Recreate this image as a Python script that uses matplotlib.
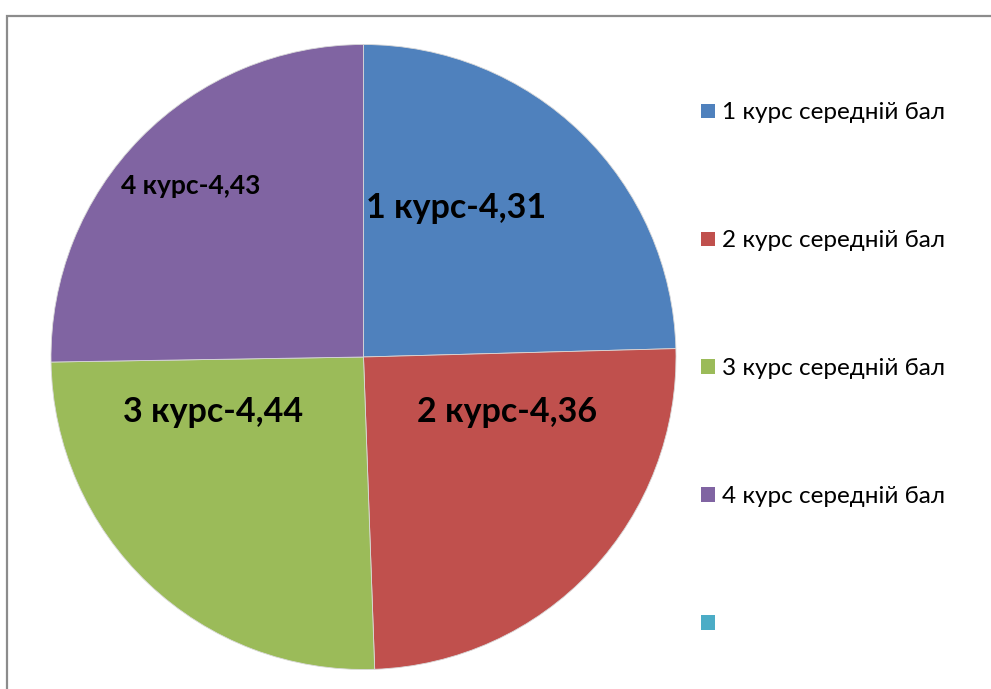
import matplotlib
matplotlib.use("Agg")
import matplotlib.pyplot as plt
from matplotlib.patches import Patch, Rectangle

plt.rcParams["font.family"] = ["Lato", "DejaVu Sans"]

courses = ["1 курс", "2 курс", "3 курс", "4 курс"]
avg_scores = [4.31, 4.36, 4.44, 4.43]
legend_labels = ["1 курс середній бал", "2 курс середній бал",
                 "3 курс середній бал", "4 курс середній бал", ""]
colors = ["#4F81BD", "#C0504D", "#9BBB59", "#8064A2", "#4BACC6"]

# label placement inside each slice (data coords, radius = 1)
label_xy = [(0.295, 0.478), (0.458, -0.176), (-0.481, -0.176), (-0.554, 0.548)]
label_sizes = [24.5, 24.5, 24.5, 19]

W, H = 991, 689
fig = plt.figure(figsize=(W / 100, H / 100), dpi=100)

# chart frame, open to the right and bottom
fig.patches.append(Rectangle((7 / W, -0.1), 1.2, 1.1 - 16 / H,
                             transform=fig.transFigure, fill=False,
                             edgecolor="#8c8c8c", lw=1.6))

cx, cy, r = 363.5, 357, 312.5
ax = fig.add_axes([(cx - r) / W, (H - cy - r) / H, 2 * r / W, 2 * r / H])
wedges, _ = ax.pie(avg_scores, colors=colors[:4], startangle=90,
                   counterclock=False, radius=1,
                   wedgeprops=dict(linewidth=0.6, edgecolor="#d9d9d9"))
ax.set_xlim(-1, 1)
ax.set_ylim(-1, 1)

for name, val, (x, y), fs in zip(courses, avg_scores, label_xy, label_sizes):
    txt = f"{name}-{val:.2f}".replace(".", ",")
    ax.text(x, y, txt, ha="center", va="center", fontsize=fs,
            fontweight="bold", color="black")

handles = [Patch(facecolor=c, edgecolor="none") for c in colors]
fig.legend(handles, legend_labels, loc="upper left",
           bbox_to_anchor=(682 / W, 1 - 83 / H), frameon=False,
           fontsize=17.5, labelspacing=4.4, handlelength=0.54,
           handleheight=0.54, handletextpad=0.3, borderpad=0.3)

fig.savefig("out.png", dpi=100)
